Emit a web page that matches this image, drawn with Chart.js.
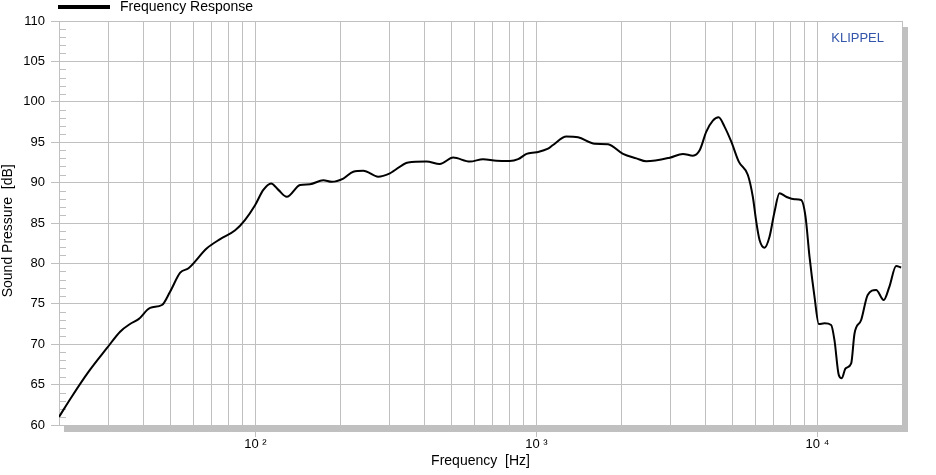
<!DOCTYPE html>
<html>
<head>
<meta charset="utf-8">
<script src="https://cdn.jsdelivr.net/npm/chart.js@4/dist/chart.umd.min.js"></script>
<style>
  html, body { margin: 0; padding: 0; background: #fff; }
  #wrap { width: 936px; height: 475px; }
</style>
</head>
<body>
<div id="wrap"><canvas id="responseChart"></canvas></div>
<script>
const frequencies = [
  20, 22.2, 25.5, 29.6, 33.0, 35.8, 38.4, 42.2, 46.5, 49.7, 54.0, 57.8, 67.2, 74.9, 84.7, 91.9, 99.7,
  106.7, 113.7, 120.7, 129.3, 144.2, 156.4, 174.4, 186.9, 205.5, 223, 242, 273.6, 301, 349.7, 406,
  453, 505.6, 580, 646, 721, 804, 861, 922, 1000, 1100, 1146, 1279, 1407, 1613, 1798, 2033, 2269,
  2461, 2980, 3322, 3606, 3810, 4024, 4246, 4450, 4675, 4938, 5250, 5656, 5890, 6059, 6225, 6486,
  6754, 7037, 7329, 7742, 8289, 8754, 9071, 9373, 9763, 10115, 10600, 11190, 11500, 11910, 12210,
  12590, 13190, 13550, 14310, 15100, 16180, 17220, 18030, 19060, 19860
];
const soundPressure = [
  61.0, 63.5, 66.6, 69.5, 71.55, 72.5, 73.1, 74.5, 74.85, 76.5, 78.85, 79.4, 81.87, 83.0, 84.1, 85.4, 87.2,
  89.1, 89.9, 89.1, 88.25, 89.7, 89.8, 90.3, 90.1, 90.5, 91.35, 91.47, 90.73, 91.15, 92.5, 92.6,
  92.3, 93.1, 92.6, 92.9, 92.7, 92.67, 92.9, 93.55, 93.75, 94.2, 94.65, 95.7, 95.6, 94.8, 94.74, 93.55, 93.0,
  92.64, 93.08, 93.55, 93.33, 94.0, 96.3, 97.66, 98.08, 96.9, 95.06, 92.6, 90.94, 88.25, 85.16, 82.9, 81.94,
  83.3, 86.4, 88.68, 88.25, 87.93, 87.85, 85.8, 80.83, 75.88, 72.5, 72.58, 72.38, 70.5, 66.2, 65.78,
  67.0, 67.63, 71.3, 73.0, 76.1, 76.7, 75.47, 77.1, 79.68, 79.5
];

// vertical grid lines and the decade labels under them
const gridFrequencies = [
  20, 30, 40, 50, 60, 70, 80, 90,
  100, 200, 300, 400, 500, 600, 700, 800, 900,
  1000, 2000, 3000, 4000, 5000, 6000, 7000, 8000, 9000,
  10000, 20000
];
const decadeLabels = { 100: '10 ²', 1000: '10 ³', 10000: '10 ⁴' };

const FONT = 'Arial, "Liberation Sans", sans-serif';
const GRID = '#c0c0c0';

// shadow frame, 1 dB ticks, legend and the KLIPPEL mark
const frameDecor = {
  id: 'frameDecor',
  beforeDraw(chart) {
    const { ctx, chartArea: a } = chart;
    ctx.save();
    ctx.fillStyle = GRID;
    ctx.fillRect(a.left + 5, a.top + 6, a.right - a.left + 1, a.bottom - a.top + 1);
    ctx.fillStyle = '#fff';
    ctx.fillRect(a.left, a.top, a.right - a.left, a.bottom - a.top);
    ctx.restore();
  },
  beforeDatasetsDraw(chart) {
    const { ctx, chartArea: a } = chart;
    const y = chart.scales.y;
    ctx.save();
    ctx.strokeStyle = GRID;
    ctx.lineWidth = 1;
    ctx.beginPath();
    for (let v = y.min; v <= y.max; v++) {
      if (v % 5 === 0) continue;
      const py = Math.round(y.getPixelForValue(v)) + 0.5;
      ctx.moveTo(a.left, py);
      ctx.lineTo(a.left + 7, py);
    }
    ctx.stroke();
    ctx.restore();
  },
  afterDraw(chart) {
    const ctx = chart.ctx;
    ctx.save();
    ctx.fillStyle = '#000';
    ctx.fillRect(58, 5, 52, 4);
    ctx.font = '14px ' + FONT;
    ctx.textBaseline = 'middle';
    ctx.fillText(chart.data.datasets[0].label, 120, 7);
    ctx.fillStyle = '#3355aa';
    ctx.font = '13px ' + FONT;
    ctx.textAlign = 'right';
    ctx.fillText('KLIPPEL', 884, 38);
    ctx.restore();
  }
};

const config = {
  type: 'line',
  data: {
    datasets: [{
      label: 'Frequency Response',
      data: frequencies.map((f, i) => ({ x: f, y: soundPressure[i] })),
      borderColor: '#000',
      borderWidth: 2,
      pointRadius: 0,
      fill: false,
      cubicInterpolationMode: 'monotone'
    }]
  },
  options: {
    responsive: true,
    maintainAspectRatio: false,
    animation: false,
    layout: { padding: { left: 0, right: 34, top: 21, bottom: 0 } },
    plugins: {
      legend: { display: false },
      tooltip: { enabled: false }
    },
    scales: {
      x: {
        type: 'logarithmic',
        min: 20,
        max: 20000,
        afterBuildTicks: s => { s.ticks = gridFrequencies.map(v => ({ value: v })); },
        afterFit: s => { s.height = 50; },
        grid: {
          color: GRID,
          lineWidth: 1,
          tickLength: 12,
          tickColor: c => (c.tick && decadeLabels[c.tick.value]) ? GRID : 'rgba(0,0,0,0)'
        },
        border: { color: GRID },
        ticks: {
          autoSkip: false,
          maxRotation: 0,
          padding: 0,
          color: '#000',
          font: { family: FONT, size: 13 },
          callback: v => decadeLabels[v] || ''
        },
        title: {
          display: true,
          text: 'Frequency  [Hz]',
          color: '#000',
          font: { family: FONT, size: 14 },
          padding: { top: 0, bottom: 5 }
        }
      },
      y: {
        min: 60,
        max: 110,
        afterFit: s => { s.width = 59; },
        grid: { color: GRID, lineWidth: 1, tickLength: 8 },
        border: { color: GRID },
        ticks: {
          stepSize: 5,
          padding: 6,
          color: '#000',
          font: { family: FONT, size: 13 }
        },
        title: {
          display: true,
          // trailing spaces push the visible text a little below centre, as in the original
          text: 'Sound Pressure  [dB]    ',
          color: '#000',
          font: { family: FONT, size: 14 },
          padding: { top: 0, bottom: 0 }
        }
      }
    }
  },
  plugins: [frameDecor]
};

new Chart(document.getElementById('responseChart').getContext('2d'), config);
</script>
</body>
</html>
